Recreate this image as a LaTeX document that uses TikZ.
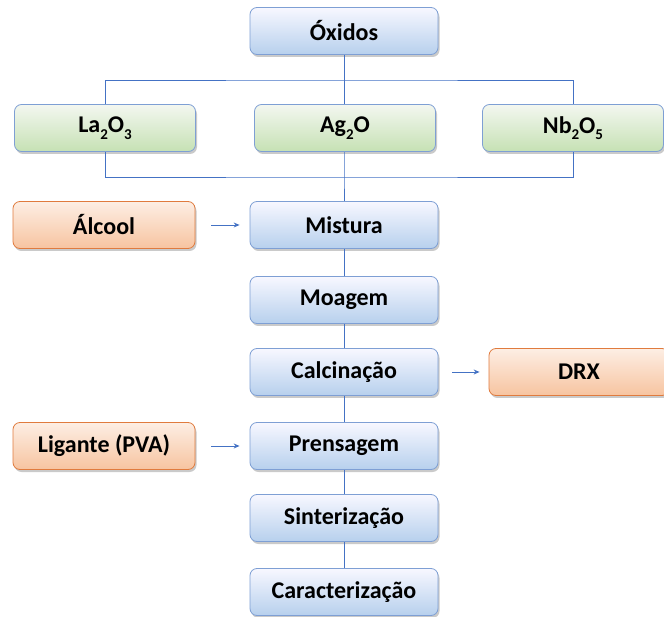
\documentclass[tikz,border=0pt]{standalone}
\usepackage{fontspec}
\setmainfont{Carlito}
\usetikzlibrary{shadows,arrows.meta}
\definecolor{lnblue}{HTML}{4472C4}
\definecolor{bdblue}{HTML}{7E9FD4}
\definecolor{bdorange}{HTML}{E07B3E}
\newcommand{\sbs}[1]{\raisebox{-0.28em}{\fontsize{15}{17}\selectfont #1}}
\tikzset{
  boxbase/.style={rounded corners=7pt, minimum height=47pt, inner sep=0pt,
    font=\fontsize{24}{28}\selectfont\bfseries, text=black, line width=0.8pt,
    drop shadow={shadow xshift=1.5pt, shadow yshift=-2.5pt, opacity=0.35, fill=black!60}},
  bluebox/.style={boxbase, draw=bdblue, top color=blue!3!white, bottom color={rgb,255:red,183;green,208;blue,237}, minimum width=188pt},
  greenbox/.style={boxbase, draw=bdblue, top color={rgb,255:red,243;green,247;blue,240}, bottom color={rgb,255:red,198;green,225;blue,180}, minimum width=181pt},
  orangebox/.style={boxbase, draw=bdorange, top color={rgb,255:red,253;green,238;blue,228}, bottom color={rgb,255:red,247;green,196;blue,160}, minimum width=182pt},
  conn/.style={draw=lnblue, line width=0.9pt},
  arr/.style={conn, -{Stealth[length=6pt,width=5pt]}}
}
\begin{document}
\begin{tikzpicture}[x=1pt,y=-1pt]
\useasboundingbox (0,0) rectangle (664,617);
\node[bluebox] (ox) at (344,31) {Óxidos};
\node[greenbox] (la) at (105,128) {La\sbs{2}O\sbs{3}};
\node[greenbox] (ag) at (345,128) {Ag\sbs{2}O};
\node[greenbox] (nb) at (573,128) {Nb\sbs{2}O\sbs{5}};
\node[orangebox] (alc) at (104,225) {Álcool};
\node[bluebox] (mis) at (344,225) {Mistura};
\node[bluebox] (moa) at (344,300) {Moagem};
\node[bluebox] (cal) at (344,372) {Calcinação};
\node[orangebox, minimum width=180pt] (drx) at (579,372) {DRX};
\node[orangebox] (lig) at (104,446) {Ligante (PVA)};
\node[bluebox] (pre) at (344,446) {Prensagem};
\node[bluebox] (sin) at (344,518) {Sinterização};
\node[bluebox] (car) at (344,592) {Caracterização};
\coordinate (t) at (344,80);
\coordinate (b) at (344,177);
\draw[conn] (ox.south) -- (t);
\draw[conn] (la.north) |- (t) -| (nb.north);
\draw[conn] (t) -- (ag.north -| t);
\draw[conn] (la.south) |- (b) -| (nb.south);
\draw[conn] (ag.south -| b) -- (b) -- (mis.north);
\draw[conn] (mis.south) -- (moa.north);
\draw[conn] (moa.south) -- (cal.north);
\draw[conn] (cal.south) -- (pre.north);
\draw[conn] (pre.south) -- (sin.north);
\draw[conn] (sin.south) -- (car.north);
\draw[arr] ([xshift=16pt]alc.east) -- ([xshift=-10pt]mis.west);
\draw[arr] ([xshift=14pt]cal.east) -- ([xshift=-9pt]drx.west);
\draw[arr] ([xshift=16pt]lig.east) -- ([xshift=-10pt]pre.west);
\end{tikzpicture}
\end{document}
